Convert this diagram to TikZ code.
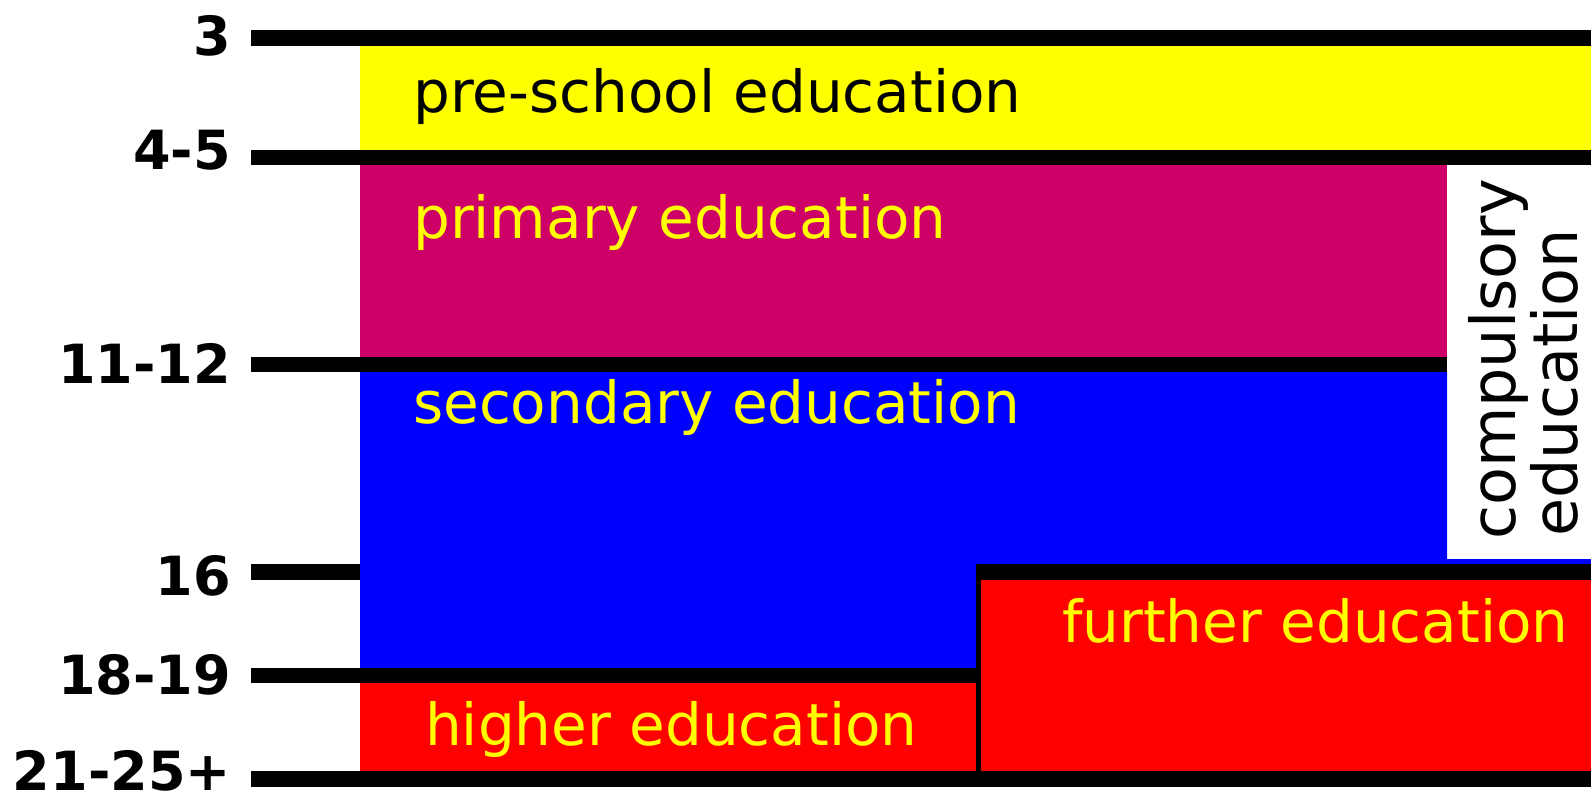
\documentclass[tikz,border=0pt]{standalone}
\usepackage{fontspec}
\setmainfont{DejaVu Sans}
\definecolor{preschool}{RGB}{255,255,0}
\definecolor{primary}{RGB}{204,0,102}
\definecolor{secondary}{RGB}{0,0,255}
\definecolor{tertiary}{RGB}{255,0,0}
\tikzset{
  age/.style={anchor=base east, inner sep=0pt, text depth=0pt, font=\fontsize{54}{60}\selectfont\bfseries},
  stage/.style={anchor=base west, inner sep=0pt, text=preschool, font=\fontsize{58}{60}\selectfont},
  duty/.style={anchor=base west, inner sep=0pt, rotate=90, font=\fontsize{62}{66}\selectfont}
}

\begin{document}
\begin{tikzpicture}[x=1pt,y=-1pt]
\useasboundingbox (0,0) rectangle (1591,797);
\fill[preschool] (360,46) rectangle (1591,150);
\fill[primary] (360,165) rectangle (1447,357);
\fill[secondary] (360,372) -- (1447,372) -- (1447,559) -- (1591,559) -- (1591,564) -- (976,564) -- (976,668) -- (360,668) -- cycle;
\fill[tertiary] (360,683) rectangle (976,771);
\fill[tertiary] (981,580) rectangle (1591,771);
\fill (251,30) rectangle (1591,46);
\fill (251,150) rectangle (1591,165);
\fill (251,357) rectangle (1447,372);
\fill (251,564) rectangle (360,580);
\fill (976,564) rectangle (1591,580);
\fill (251,668) rectangle (976,683);
\fill (976,580) rectangle (981,771);
\fill (251,771) rectangle (1591,787);
\draw (231,56) node[age] (age3) {3};
\draw (231,170) node[age] (age45) {4-5};
\draw (231,383) node[age] (age1112) {11-12};
\draw (231,595) node[age] (age16) {16};
\draw (231,694) node[age] (age1819) {18-19};
\draw (231,790) node[age] (age2125) {21-25+};
\draw (413,113) node[stage, text=black] (preschool) {pre-school education};
\draw (413,238) node[stage] (primary) {primary education};
\draw (413,423) node[stage] (secondary) {secondary education};
\draw (1062,642) node[stage] (further) {further education};
\draw (425,745) node[stage] (higher) {higher education};
\draw (1515,540) node[duty] (compulsory) {compulsory};
\draw (1577,537) node[duty] (compulsory2) {education};
\end{tikzpicture}
\end{document}
